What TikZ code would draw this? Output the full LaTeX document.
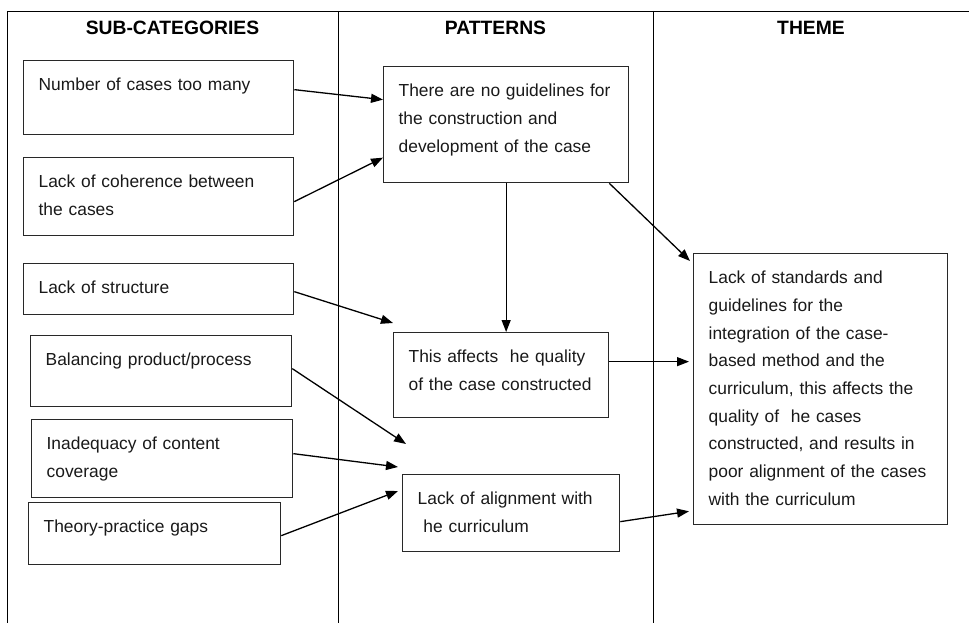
\documentclass[tikz,border=0pt]{standalone}
\usepackage{fontspec}
\setmainfont{Liberation Sans}
\usetikzlibrary{arrows.meta, positioning, calc}
\definecolor{boxline}{RGB}{40,40,40}
\definecolor{inktext}{RGB}{25,25,25}
\newcommand{\bodyfont}{\fontsize{17.4pt}{27.7pt}\selectfont\hyphenpenalty=10000 }
\newcommand{\headfont}{\fontsize{19.3pt}{23pt}\selectfont\bfseries}
\tikzset{
  catbox/.style={rectangle, draw=boxline, line width=1.3pt, anchor=north west,
    align=left, inner xsep=15pt, inner ysep=0pt, text height=30pt,
    font=\bodyfont, text=inktext},
  patbox/.style={rectangle, draw=boxline, line width=1.3pt, anchor=north west,
    align=left, inner xsep=15pt, inner ysep=0pt, text height=30pt,
    font=\bodyfont, text=inktext},
  themebox/.style={rectangle, draw=boxline, line width=1.3pt, anchor=north west,
    align=left, inner xsep=15pt, inner ysep=0pt, text height=30pt,
    font=\bodyfont, text=inktext},
  head/.style={font=\headfont, inner sep=0pt, text=black},
  arrow/.style={-{Triangle[length=12pt,width=9pt]}, line width=1.3pt, color=black},
  rule/.style={line width=0.9pt, color=black},
}

\begin{document}
\begin{tikzpicture}[x=1pt, y=-1pt]
  \useasboundingbox (0,0) rectangle (969,623);

  % table frame
  \draw[rule] (7,623) -- (7,11) -- (969,11);
  \foreach \x in {338,653}
    \draw[rule] (\x,11) -- (\x,623);

  % column heads
  \node[head] (hcat) at (172.5,28) {SUB-CATEGORIES};
  \node[head] (hpat) at (495.5,28) {PATTERNS};
  \node[head] (hthm) at (811,28)   {THEME};

  % sub-categories
  \node[catbox, text width=240pt, text depth=44pt] (numcases) at (23,60)
    {Number of cases too many};
  \node[catbox, text width=240pt, text depth=48pt] (cohere) at (23,157)
    {Lack of coherence between\\the cases};
  \node[catbox, text width=240pt, text depth=21pt] (struct) at (23,263)
    {Lack of structure};
  \node[catbox, text width=231pt, text depth=41pt] (balance) at (30,335)
    {Balancing product/process};
  \node[catbox, text width=231pt, text depth=48pt] (content) at (31,419)
    {Inadequacy of content\\coverage};
  \node[catbox, text width=222pt, text depth=32pt] (gaps) at (28,502)
    {Theory-practice gaps};

  % patterns
  \node[patbox, text width=215pt, text depth=86pt] (guide) at (383,66)
    {There are no guidelines for\\the construction and\\development of the case};
  \node[patbox, text width=185pt, text depth=55pt] (quality) at (393,332)
    {This affects\ \ he quality\\of the case constructed};
  \node[patbox, text width=187pt, text depth=47pt] (align) at (402,474)
    {Lack of alignment with\\\mbox{}\ he curriculum};

  % theme
  \node[themebox, text width=224pt, text depth=241pt] (theme) at (693,253)
    {Lack of standards and\\guidelines for the\\integration of the case-\\based method and the\\curriculum, this affects the\\quality of\ \ he cases\\constructed, and results in\\poor alignment of the cases\\with the curriculum};

  % sub-categories to patterns
  \draw[arrow] ([yshift=8pt]numcases.east) -- ([yshift=25pt]guide.west);
  \draw[arrow] ([yshift=-5pt]cohere.east) -- ([yshift=-33pt]guide.west);
  \draw[arrow] ([yshift=-2.5pt]struct.east) -- ([yshift=9pt]quality.north west);
  \draw[arrow] ([yshift=2.5pt]balance.east) -- ([shift={(4pt,30pt)}]align.north west);
  \draw[arrow] ([yshift=5pt]content.east) -- ([shift={(-4pt,7pt)}]align.north west);
  \draw[arrow] ([yshift=-2pt]gaps.east) -- ([shift={(-4pt,-17pt)}]align.north west);

  % patterns to theme
  \draw[arrow] (guide.south) -- (guide.south |- quality.north);
  \draw[arrow] ([xshift=-20pt]guide.south east) -- ([shift={(-3pt,-8pt)}]theme.north west);
  \draw[arrow] ([yshift=13.5pt]quality.east) -- ([shift={(-4pt,27.5pt)}]theme.west);
  \draw[arrow] ([yshift=-8.5pt]align.east) -- ([shift={(-4pt,14pt)}]theme.south west);
\end{tikzpicture}
\end{document}
